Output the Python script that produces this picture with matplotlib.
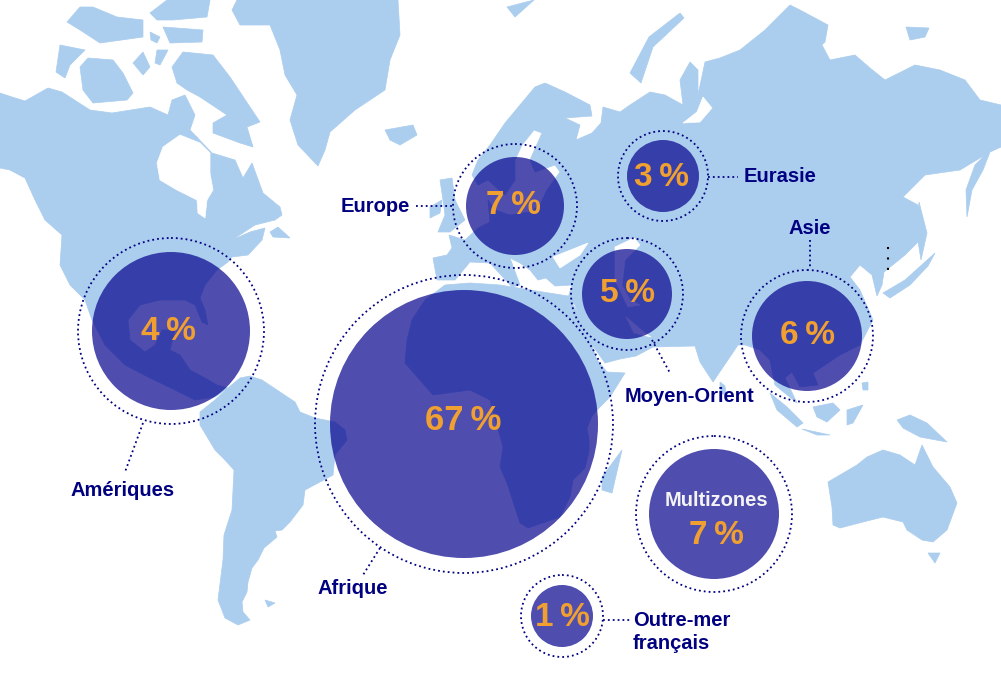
import matplotlib
matplotlib.use("Agg")
import matplotlib.pyplot as plt
from matplotlib.patches import Circle, Polygon

plt.rcParams['font.family'] = ['Liberation Sans', 'DejaVu Sans']

# values
zones = ["Amériques", "Afrique", "Europe", "Moyen-Orient", "Eurasie", "Asie", "Multizones", "Outre-mer"]
shares = [4, 67, 7, 5, 3, 6, 7, 1]

# bubbles, in picture pixels
centers = [(171, 331), (464, 424), (515, 206), (627, 294), (663, 176), (807, 336), (714, 514), (562, 616)]
radii = [79, 134, 49, 45, 36, 55, 65, 31]
ring_radii = [93, 149, 62, 56, 45, 66, 78, 41]
share_places = [(168, 331), (463, 421), (513, 206), (627, 294), (662, 177), (808, 336), (716, 535), (562, 617)]

# leader lines and label places
leaders = [((143, 423), (125, 472)), ((380, 548), (363, 575)), ((416, 206), (453, 206)),
           ((652, 340), (670, 373)), ((708, 177), (738, 177)), ((810, 240), (810, 269)),
           ((603, 620), (630, 620))]
labels = [("Amériques", 123, 491), ("Afrique", 353, 588), ("Europe", 375, 206),
          ("Moyen-Orient", 689, 396), ("Eurasie", 780, 177), ("Asie", 810, 228)]

# map outlines
north_america = [(0,93),(12,97),(25,101),(48,88),(62,92),(90,110),(112,113),(150,107),(168,115),(172,100),(185,95),(195,115),
    (190,130),(212,153),(235,160),(243,178),(252,163),(263,193),(280,207),(282,215),(275,220),(255,225),(232,240),(250,232),
    (265,228),(262,240),(248,255),(232,257),(228,262),(217,270),(205,285),(200,298),(205,310),(208,325),(202,322),(195,305),
    (185,300),(160,300),(140,305),(128,320),(130,340),(145,352),(155,345),(162,330),(175,330),(170,350),(180,355),(190,370),
    (205,378),(217,385),(228,388),(215,397),(195,400),(175,390),(150,378),(125,365),(105,345),(92,320),(85,300),(70,285),
    (60,265),(62,235),(45,220),(35,200),(25,178),(10,170),(0,168)]
hudson_bay = [(157,163),(163,147),(180,135),(200,143),(210,153),(210,173),(213,190),(207,200),(205,218),(198,213),(197,200),(177,190),(160,180)]
greenland = [(232,10),(240,25),(270,25),(280,50),(285,75),(297,95),(290,120),(298,145),(318,166),(325,150),(330,132),(355,110),
    (385,90),(390,60),(400,35),(398,0),(237,0)]
arctic_islands = [
    [(60,45),(85,50),(70,65),(65,78),(56,72)],
    [(80,67),(88,58),(113,60),(123,73),(133,93),(127,100),(93,103),(83,90)],
    [(67,22),(80,7),(93,7),(117,17),(143,20),(143,37),(100,43),(80,30)],
    [(150,13),(167,0),(210,0),(207,17),(173,20),(157,20)],
    [(163,27),(203,30),(202,42),(170,43)],
    [(133,63),(143,52),(150,67),(143,75)],
    [(157,50),(168,50),(160,65),(155,63)],
    [(150,32),(160,37),(157,43),(151,40)],
    [(172,67),(183,52),(213,55),(230,77),(260,122),(247,127),(253,147),(240,143),(213,133),(213,123),(227,115),(200,97),(187,90),(177,83)],
    [(270,232),(278,227),(290,238),(273,237)],
    [(180,133),(197,137),(200,143),(185,145)],
]
south_america = [(228,388),(240,378),(250,376),(262,380),(280,392),(295,402),(300,412),(315,418),(335,422),(345,430),(347,440),
    (335,455),(333,475),(320,482),(305,490),(303,505),(290,522),(282,530),(275,531),(277,537),(264,548),(258,560),(252,568),
    (248,582),(247,592),(242,602),(243,612),(250,620),(238,625),(225,618),(218,600),(223,560),(224,535),(232,510),(234,470),
    (225,460),(215,450),(200,425),(200,412),(215,400)]
eurasia = [(433,258),(447,255),(452,248),(449,235),(465,240),(478,228),(490,222),(488,200),(495,210),(510,215),(530,212),(540,205),
    (547,190),(560,172),(555,165),(535,172),(530,160),(542,133),(534,130),(522,145),(515,160),(515,180),(505,195),(497,188),
    (488,180),(478,185),(472,175),(478,160),(490,145),(505,123),(520,105),(535,87),(545,83),(565,92),(590,105),(592,116),
    (565,118),(580,125),(576,140),(592,133),(601,123),(603,107),(620,112),(630,105),(650,92),(665,95),(683,105),(680,80),
    (690,62),(698,70),(698,95),(705,62),(720,58),(740,50),(765,30),(790,5),(800,10),(828,25),(825,42),(802,62),(822,45),
    (830,60),(855,55),(870,68),(885,80),(915,65),(940,70),(965,80),(980,100),(1001,105),(1001,147),(990,152),(983,170),
    (972,190),(967,217),(966,190),(975,165),(985,155),(960,170),(925,175),(903,197),(918,205),(920,240),(905,255),(884,272),
    (882,285),(877,296),(872,275),(860,265),(850,277),(860,290),(873,320),(860,345),(840,355),(825,365),(813,373),(818,385),
    (800,387),(792,372),(785,378),(797,403),(775,385),(770,360),(760,350),(745,345),(738,345),(713,382),(700,362),(695,346),
    (653,347),(636,356),(620,359),(605,363),(590,342),(575,305),(568,298),(572,285),(555,286),(546,278),(538,280),(530,270),
    (520,263),(510,258),(520,285),(512,287),(490,263),(470,262),(455,280),(437,280)]
eurasia_water = [
    [(553,257),(588,243),(580,255),(560,268)],
    [(615,247),(634,238),(640,245),(625,260),(622,285),(630,300),(640,305),(628,307),(615,280)],
    [(626,317),(645,333),(651,337),(634,333)],
    [(703,97),(712,108),(700,122),(683,123),(697,112)],
]
africa = [(407,340),(412,320),(425,300),(445,285),(470,283),(500,285),(530,290),(568,296),(585,325),(597,360),(607,372),(625,373),
    (610,397),(600,407),(592,416),(587,428),(589,440),(589,452),(585,468),(573,480),(570,497),(560,517),(528,528),(520,523),
    (507,483),(500,467),(503,447),(490,400),(470,390),(433,395),(405,363)]
other_land = [
    [(622,450),(618,467),(612,493),(602,490),(602,477)],
    [(828,482),(857,465),(867,457),(883,450),(900,455),(915,465),(922,445),(933,467),(950,487),(957,503),(947,530),(933,542),
     (922,540),(907,530),(903,522),(883,517),(863,522),(840,528),(833,525),(832,507)],
    [(928,553),(940,553),(935,563)],
    [(897,420),(910,415),(927,423),(947,442),(920,437),(903,428)],
    [(813,407),(833,403),(840,410),(827,422),(817,417)],
    [(770,393),(787,407),(803,423),(797,427),(777,410)],
    [(802,429),(830,435),(817,435)],
    [(847,410),(863,405),(853,423),(847,425)],
    [(862,383),(868,382),(868,390),(863,390)],
    [(720,382),(725,386),(726,395),(720,393)],
    [(385,130),(413,125),(417,135),(400,145),(390,140)],
    [(430,207),(442,200),(440,213),(430,218)],
    [(440,180),(452,178),(455,200),(465,220),(450,232),(438,232),(445,215),(443,200)],
    [(630,73),(649,37),(680,13),(684,18),(653,47),(641,83)],
    [(507,7),(534,0),(515,17)],
    [(906,27),(929,28),(925,37),(910,40)],
    [(919,202),(927,233),(921,260),(917,235)],
    [(883,293),(905,280),(925,262),(935,253),(928,266),(910,285),(890,298)],
    [(265,600),(275,603),(268,607)],
]

land_color = "#abcdee"
navy = "#000080"
orange = "#f0a030"

fig, ax = plt.subplots(1, 1, figsize=(10.01, 6.87), dpi=100)
fig.subplots_adjust(0, 0, 1, 1)
ax.set_xlim(0, 1001)
ax.set_ylim(687, 0)
ax.axis('off')

land = [north_america, greenland, south_america, eurasia, africa] + arctic_islands + other_land
for outline in land:
    ax.add_patch(Polygon(outline, closed=True, fc=land_color, ec=land_color, lw=0.5, zorder=1))
for outline in [hudson_bay] + eurasia_water:
    ax.add_patch(Polygon(outline, closed=True, fc="white", ec="white", lw=0.5, zorder=2))

dots = (0, (1, 1.7))
for (x, y), r, rr in zip(centers, radii, ring_radii):
    ax.add_patch(Circle((x, y), r, fc="#05028c", ec="none", alpha=0.7, zorder=3))
    ax.add_patch(Circle((x, y), rr, fc="none", ec=navy, lw=1.3, ls=dots, zorder=4))

for a, b in leaders:
    ax.plot([a[0], b[0]], [a[1], b[1]], color=navy, lw=1.3, ls=dots, zorder=4)
ax.plot([888, 888], [247, 275], color="black", lw=1.5, ls=(0, (1, 4)), zorder=4)

for (x, y), zone, share in zip(share_places, zones, shares):
    size = 25 if share == 67 else 24
    ax.text(x, y, f"{share}\u2009%", color=orange, fontsize=size, fontweight="bold", ha="center", va="center", zorder=5)
ax.text(716, 500, "Multizones", color="#f4f4f4", fontsize=14.5, fontweight="bold", ha="center", va="center", zorder=5)

for txt, x, y in labels:
    ax.text(x, y, txt, color=navy, fontsize=14.5, fontweight="bold", ha="center", va="center", zorder=5)
ax.text(633, 632, "Outre-mer\nfrançais", color=navy, fontsize=14.5, fontweight="bold", ha="left", va="center", linespacing=1.3, zorder=5)

plt.savefig("out.png", dpi=100)
